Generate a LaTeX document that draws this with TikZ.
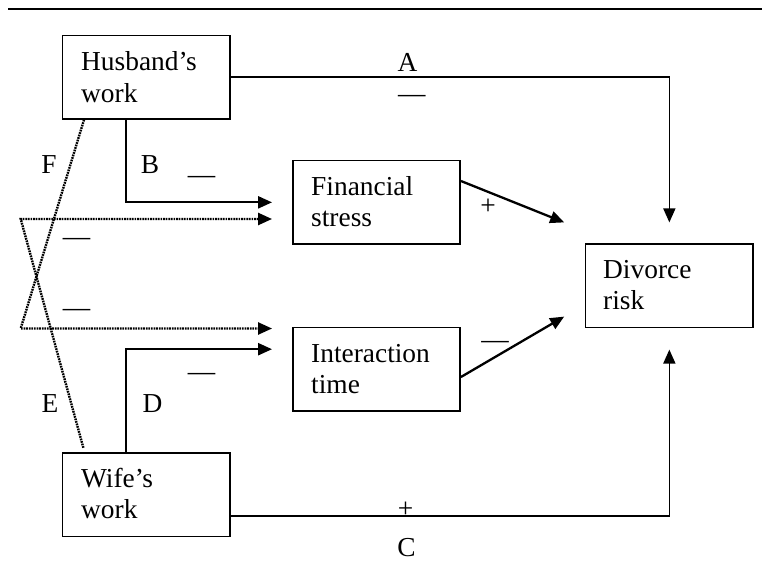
\documentclass[tikz,border=0pt]{standalone}
\usepackage{fontspec}
\setmainfont{Liberation Serif}
\usetikzlibrary{arrows.meta}
\begin{document}
\begin{tikzpicture}[x=1bp,y=-1bp,
  box/.style={draw, line width=1.5bp, rectangle, inner sep=0pt, minimum width=167.4bp, minimum height=83.4bp},
  txt/.style={anchor=north west, inner sep=0pt, align=left, font=\fontsize{27.5}{31.5}\selectfont},
  lbl/.style={anchor=base, inner sep=0pt, font=\fontsize{27.5}{31.5}\selectfont},
  tip/.style={-{Triangle[length=14bp,width=12bp]}},
  arr/.style={tip, line width=2.3bp},
  cline/.style={line width=1.7bp},
  dotline/.style={tip, line width=2.4bp, dash pattern=on 1.7bp off 0.9bp},
]
\useasboundingbox (0,0) rectangle (762,573);
% top rule
\draw[line width=2.6bp] (8,9) -- (762,9);

% boxes
\node[box] (h)  at (146.35,77.35) {};
\node[box] (fs) at (376.5,202.35) {};
\node[box] (it) at (376.5,369.2) {};
\node[box] (dv) at (669.35,285.85) {};
\node[box] (wf) at (146.35,494.7) {};

% box texts
\node[txt] (ht)  at (81,48.7)   {\strut Husband’s\\\strut work};
\node[txt] (fst) at (311,173)   {\strut Financial\\\strut stress};
\node[txt] (itt) at (311,340)   {\strut Interaction\\\strut time};
\node[txt] (dvt) at (603,256.3) {\strut Divorce\\\strut risk};
\node[txt] (wft) at (81,465.2)  {\strut Wife’s\\\strut work};

% corner coordinates of the dotted paths
\coordinate (ec) at (20.7,219);
\coordinate (fc) at (20.7,328.5);

% A and C
\draw[arr, cline, shorten >=21bp] (h.east) -| (dv.north);
\draw[arr, cline, shorten >=21.3bp] ([yshift=-21bp]wf.east) -| (dv.south);

% B and D
\draw[arr, shorten >=20bp] ([xshift=-20.35bp]h.south) |- (fs.west);
\draw[arr, shorten >=20bp] ([xshift=-20.35bp]wf.north) |- ([yshift=20bp]it.west);

% E and F (dotted)
\draw[dotline, shorten >=20bp]
  ([xshift=-63bp,yshift=4.5bp]wf.north) -- (ec) -- ([yshift=-16.65bp]fs.west);
\draw[dotline, shorten >=20bp]
  ([xshift=-62.35bp]h.south) -- (fc) -- ([yshift=40.7bp]it.west);

% mediators to divorce
\draw[arr] ([yshift=21.35bp]fs.east) -- ([xshift=-20.7bp,yshift=21bp]dv.north west);
\draw[arr] ([yshift=-7.8bp]it.east) -- ([xshift=-20.7bp,yshift=11.7bp]dv.south west);

% labels
\node[lbl] (la)  at (407.5,71.7) {A};
\node[lbl] (lam) at (411.7,102.2) {—};
\node[lbl] (lb)  at (150,174) {B};
\node[lbl] (lbm) at (201.5,183.2) {—};
\node[lbl] (lf)  at (49,174) {F};
\node[lbl] (lem) at (76.5,245.2) {—};
\node[lbl] (lfm) at (76.5,316.2) {—};
\node[lbl] (ldm) at (201.5,380.2) {—};
\node[lbl] (le)  at (50,412.7) {E};
\node[lbl] (ld)  at (152.5,412.7) {D};
\node[lbl] (lfp) at (488,215) {+};
\node[lbl] (lim) at (495,348.2) {—};
\node[lbl] (lcp) at (405.5,517) {+};
\node[lbl] (lc)  at (406.5,556) {C};
\end{tikzpicture}
\end{document}
